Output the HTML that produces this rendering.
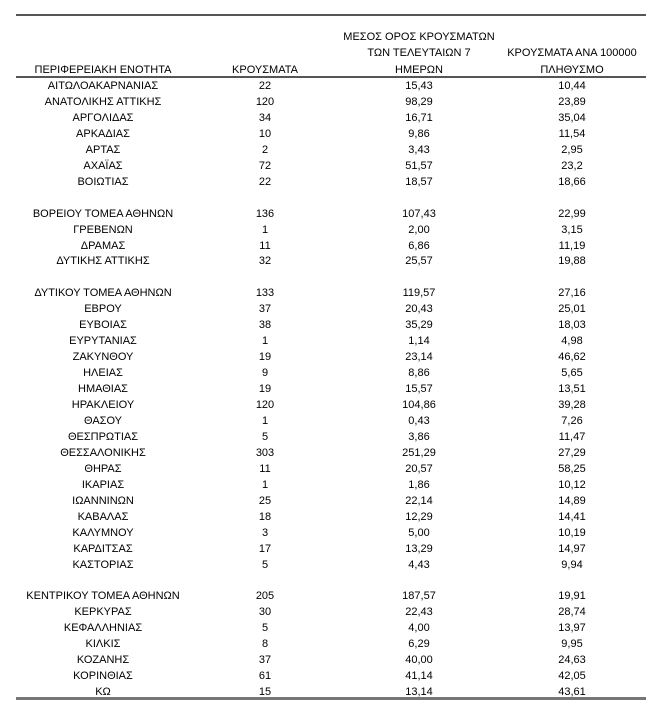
<!DOCTYPE html>
<html><head><meta charset="utf-8"><style>
body{margin:0;width:646px;height:719px;background:#fff;position:relative;overflow:hidden;font-family:"Liberation Sans","DejaVu Sans",sans-serif;font-size:11px;color:#000}
.c{position:absolute;width:200px;text-align:center;line-height:16px;white-space:nowrap}
.l{position:absolute;left:16px;right:0;background:#555}
</style></head><body>
<div class="l" style="top:14px;height:2px"></div>
<div class="l" style="top:76px;height:2px"></div>
<div class="l" style="top:697px;height:3px;background:#777"></div>
<div class="c" style="left:319px;top:29px">ΜΕΣΟΣ ΟΡΟΣ ΚΡΟΥΣΜΑΤΩΝ</div>
<div class="c" style="left:319px;top:45px">ΤΩΝ ΤΕΛΕΥΤΑΙΩΝ 7</div>
<div class="c" style="left:319px;top:62px">ΗΜΕΡΩΝ</div>
<div class="c" style="left:472px;top:45px">ΚΡΟΥΣΜΑΤΑ ΑΝΑ 100000</div>
<div class="c" style="left:472px;top:62px">ΠΛΗΘΥΣΜΟ</div>
<div class="c" style="left:3px;top:62px">ΠΕΡΙΦΕΡΕΙΑΚΗ ΕΝΟΤΗΤΑ</div>
<div class="c" style="left:165px;top:62px">ΚΡΟΥΣΜΑΤΑ</div>
<div id="t"></div>
<script>
var d=[["ΑΙΤΩΛΟΑΚΑΡΝΑΝΙΑΣ","22","15,43","10,44"],["ΑΝΑΤΟΛΙΚΗΣ ΑΤΤΙΚΗΣ","120","98,29","23,89"],["ΑΡΓΟΛΙΔΑΣ","34","16,71","35,04"],["ΑΡΚΑΔΙΑΣ","10","9,86","11,54"],["ΑΡΤΑΣ","2","3,43","2,95"],["ΑΧΑΪΑΣ","72","51,57","23,2"],["ΒΟΙΩΤΙΑΣ","22","18,57","18,66"],null,
["ΒΟΡΕΙΟΥ ΤΟΜΕΑ ΑΘΗΝΩΝ","136","107,43","22,99"],["ΓΡΕΒΕΝΩΝ","1","2,00","3,15"],["ΔΡΑΜΑΣ","11","6,86","11,19"],["ΔΥΤΙΚΗΣ ΑΤΤΙΚΗΣ","32","25,57","19,88"],null,
["ΔΥΤΙΚΟΥ ΤΟΜΕΑ ΑΘΗΝΩΝ","133","119,57","27,16"],["ΕΒΡΟΥ","37","20,43","25,01"],["ΕΥΒΟΙΑΣ","38","35,29","18,03"],["ΕΥΡΥΤΑΝΙΑΣ","1","1,14","4,98"],["ΖΑΚΥΝΘΟΥ","19","23,14","46,62"],["ΗΛΕΙΑΣ","9","8,86","5,65"],["ΗΜΑΘΙΑΣ","19","15,57","13,51"],["ΗΡΑΚΛΕΙΟΥ","120","104,86","39,28"],["ΘΑΣΟΥ","1","0,43","7,26"],["ΘΕΣΠΡΩΤΙΑΣ","5","3,86","11,47"],["ΘΕΣΣΑΛΟΝΙΚΗΣ","303","251,29","27,29"],["ΘΗΡΑΣ","11","20,57","58,25"],["ΙΚΑΡΙΑΣ","1","1,86","10,12"],["ΙΩΑΝΝΙΝΩΝ","25","22,14","14,89"],["ΚΑΒΑΛΑΣ","18","12,29","14,41"],["ΚΑΛΥΜΝΟΥ","3","5,00","10,19"],["ΚΑΡΔΙΤΣΑΣ","17","13,29","14,97"],["ΚΑΣΤΟΡΙΑΣ","5","4,43","9,94"],null,
["ΚΕΝΤΡΙΚΟΥ ΤΟΜΕΑ ΑΘΗΝΩΝ","205","187,57","19,91"],["ΚΕΡΚΥΡΑΣ","30","22,43","28,74"],["ΚΕΦΑΛΛΗΝΙΑΣ","5","4,00","13,97"],["ΚΙΛΚΙΣ","8","6,29","9,95"],["ΚΟΖΑΝΗΣ","37","40,00","24,63"],["ΚΟΡΙΝΘΙΑΣ","61","41,14","42,05"],["ΚΩ","15","13,14","43,61"]];
var x=[3,165,319,472],h="";
d.forEach(function(r,i){if(!r)return;var y=(78+i*15.95).toFixed(1);r.forEach(function(v,j){h+='<div class="c" style="left:'+x[j]+'px;top:'+y+'px">'+v+'</div>';});});
document.getElementById("t").innerHTML=h;
</script>
</body></html>
